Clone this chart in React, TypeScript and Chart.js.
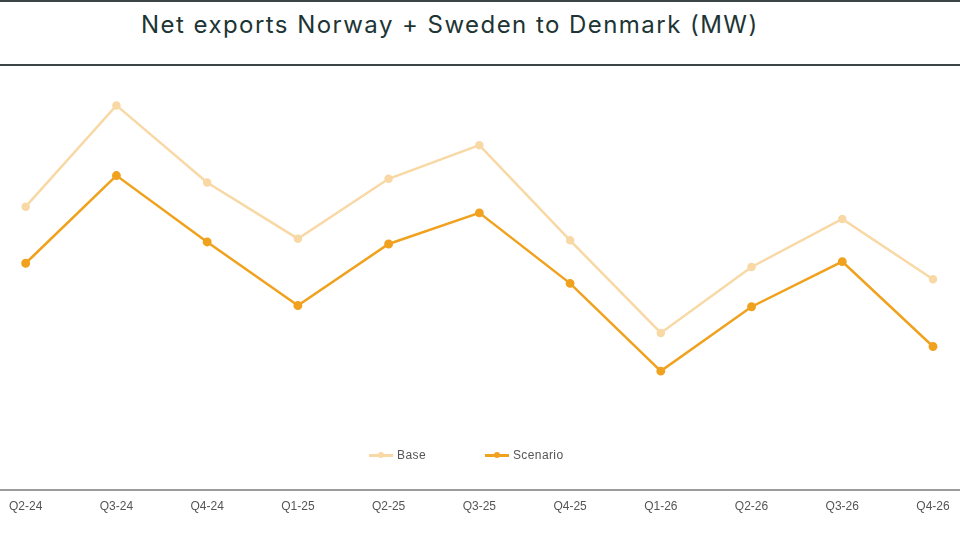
import React, { useEffect, useRef } from "react";
import { Chart, registerables } from "chart.js";

Chart.register(...registerables);

const TITLE = "Net exports Norway + Sweden to Denmark (MW)";
const QUARTERS = ["Q2-24", "Q3-24", "Q4-24", "Q1-25", "Q2-25", "Q3-25", "Q4-25", "Q1-26", "Q2-26", "Q3-26", "Q4-26"];
const BASE_MW = [691, 938, 750, 613, 759, 841, 609, 383, 544, 661, 514];
const SCENARIO_MW = [553, 767, 605, 450, 600, 676, 504, 290, 447, 557, 350];
const SERIES_NAMES = ["Base", "Scenario"];
const SERIES_COLORS = ["#F8D8A5", "#F0A21F"];
const Y_MIN = 0;
const Y_MAX = 1000;

const axisLinePlugin = {
  id: "axisLine",
  afterDraw(chart: any) {
    const ctx = chart.ctx;
    const xs = chart.scales.x;
    ctx.save();
    ctx.fillStyle = "#9c9c9c";
    ctx.fillRect(0, Math.round(xs.top) - 1, chart.width, 2);
    ctx.restore();
  },
};

export default function App() {
  const canvasRef = useRef<HTMLCanvasElement | null>(null);

  useEffect(() => {
    if (!canvasRef.current) return;
    const chart = new Chart(canvasRef.current, {
      type: "line",
      data: {
        labels: QUARTERS,
        datasets: [
          {
            label: SERIES_NAMES[0],
            data: BASE_MW,
            borderColor: SERIES_COLORS[0],
            backgroundColor: SERIES_COLORS[0],
            borderWidth: 2.5,
            pointRadius: 3,
            pointHoverRadius: 3,
            tension: 0,
          },
          {
            label: SERIES_NAMES[1],
            data: SCENARIO_MW,
            borderColor: SERIES_COLORS[1],
            backgroundColor: SERIES_COLORS[1],
            borderWidth: 2.5,
            pointRadius: 3.2,
            pointHoverRadius: 3.2,
            tension: 0,
          },
        ],
      },
      options: {
        responsive: false,
        animation: false,
        layout: { padding: { top: 80, left: 23, right: 27, bottom: 0 } },
        plugins: {
          legend: { display: false },
          title: { display: false },
          tooltip: { enabled: false },
        },
        scales: {
          y: { display: false, min: Y_MIN, max: Y_MAX },
          x: {
            offset: false,
            grid: { display: false, drawTicks: false },
            border: { display: false },
            ticks: {
              autoSkip: false,
              maxRotation: 0,
              padding: 9,
              color: "#555555",
              font: { family: "'Liberation Sans', Arial, sans-serif", size: 12 },
            },
            afterFit(scale: any) {
              scale.height = 50;
            },
          },
        },
      },
      plugins: [axisLinePlugin],
    });
    return () => chart.destroy();
  }, []);

  return (
    <div style={{ position: "fixed", left: 0, top: 0, width: 960, height: 540, background: "#ffffff", overflow: "hidden" }}>
      <div style={{ position: "absolute", left: 0, top: 0, width: 960, height: 2, background: "#3b4545" }} />
      <div
        style={{
          position: "absolute",
          left: 141,
          top: 11,
          fontFamily: "Inter, 'Open Sans', sans-serif",
          fontSize: 24,
          lineHeight: "28px",
          letterSpacing: 1.45,
          color: "#1d3535",
          whiteSpace: "nowrap",
        }}
      >
        {TITLE}
      </div>
      <div style={{ position: "absolute", left: 0, top: 64, width: 960, height: 2, background: "#3b4545" }} />
      <canvas ref={canvasRef} width={960} height={540} style={{ position: "absolute", left: 0, top: 0, width: 960, height: 540 }} />
      <div
        style={{
          position: "absolute",
          left: 369,
          top: 447,
          display: "flex",
          alignItems: "center",
          height: 16,
          fontFamily: "'Liberation Sans', Arial, sans-serif",
          fontSize: 12,
          color: "#555555",
        }}
      >
        {SERIES_NAMES.map((name, i) => (
          <div key={name} style={{ display: "flex", alignItems: "center", marginRight: i === 0 ? 59 : 0 }}>
            <div style={{ position: "relative", width: 24, height: 8, marginRight: 4 }}>
              <div style={{ position: "absolute", left: 0, top: 3, width: 24, height: 2.5, background: SERIES_COLORS[i] }} />
              <div style={{ position: "absolute", left: 9, top: 1, width: 6, height: 6, borderRadius: 3, background: SERIES_COLORS[i] }} />
            </div>
            <span style={{ letterSpacing: 0.4 }}>{name}</span>
          </div>
        ))}
      </div>
    </div>
  );
}
